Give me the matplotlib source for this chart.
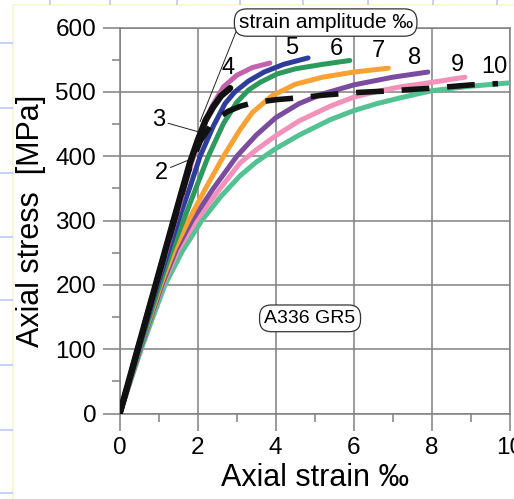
import matplotlib
matplotlib.use("Agg")
import matplotlib.pyplot as plt
from matplotlib.lines import Line2D

plt.rcParams['font.family'] = ['Liberation Sans', 'DejaVu Sans']

# stress-strain curves, one per strain amplitude (per mille)
strain_2 = [0, 0.46, 0.92, 1.4, 1.75, 2.06, 2.31, 2.55, 2.78, 3.1, 3.4, 4.0, 4.6, 5.2, 6.0, 7.0, 8.0, 9.0, 9.7]
stress_2 = [0, 100, 200, 300, 375, 423, 446, 461, 470, 478, 483, 488, 491, 495, 499, 502, 506, 511, 513]

strain_3 = [0, 0.46, 0.92, 1.38, 1.8, 2.0, 2.2, 2.4, 2.6, 2.83]
stress_3 = [0, 100, 200, 300, 390, 425, 456, 477, 494, 506]

strain_4 = [0, 0.47, 0.94, 1.42, 1.84, 2.1, 2.35, 2.66, 3.0, 3.4, 3.85]
stress_4 = [0, 100, 200, 300, 390, 438, 476, 508, 526, 538, 545]

strain_5 = [0, 0.48, 0.97, 1.5, 1.8, 2.06, 2.4, 2.7, 2.95, 3.3, 3.7, 4.2, 4.83]
stress_5 = [0, 100, 200, 300, 352, 400, 447, 482, 500, 517, 531, 543, 553]

strain_6 = [0, 0.5, 1.02, 1.3, 1.63, 1.95, 2.27, 2.66, 3.0, 3.3, 3.6, 4.03, 4.5, 5.2, 5.9]
stress_6 = [0, 100, 200, 250, 300, 350, 400, 451, 484, 503, 515, 528, 536, 543, 549]

strain_7 = [0, 0.5, 0.78, 1.05, 1.4, 1.76, 2.2, 2.66, 3.08, 3.4, 3.9, 4.5, 5.2, 6.0, 6.89]
stress_7 = [0, 100, 150, 200, 255, 300, 350, 400, 441, 468, 494, 512, 523, 531, 537]

strain_8 = [0, 0.52, 0.8, 1.08, 1.45, 1.85, 2.4, 3.0, 3.5, 4.0, 4.6, 5.2, 6.0, 7.0, 7.9]
stress_8 = [0, 100, 150, 200, 255, 300, 350, 400, 433, 460, 482, 497, 511, 523, 531]

strain_9 = [0, 0.52, 0.8, 1.1, 1.5, 1.96, 2.6, 3.09, 3.5, 4.0, 4.6, 5.4, 6.0, 6.6, 7.2, 8.0, 8.85]
stress_9 = [0, 100, 150, 200, 255, 300, 352, 390, 410, 432, 455, 478, 492, 501, 508, 515, 523]

strain_10 = [0, 0.55, 0.85, 1.16, 1.6, 2.1, 2.6, 3.09, 3.5, 4.0, 4.6, 5.4, 6.0, 6.6, 7.2, 8.0, 9.0, 9.95]
stress_10 = [0, 100, 150, 200, 252, 300, 338, 370, 391, 412, 433, 457, 471, 482, 491, 502, 509, 514]

curve_colors = {
    10: '#52c293', 9: '#f291ba', 8: '#7a4b9f', 7: '#f7a233',
    6: '#2b9a5c', 5: '#2e3d9c', 4: '#c462ad', 3: '#111111',
}
curves = {
    10: (strain_10, stress_10), 9: (strain_9, stress_9), 8: (strain_8, stress_8),
    7: (strain_7, stress_7), 6: (strain_6, stress_6), 5: (strain_5, stress_5),
    4: (strain_4, stress_4), 3: (strain_3, stress_3),
}

# label positions for the amplitude numbers
number_labels = ['4', '5', '6', '7', '8', '9', '10']
number_x = [2.78, 4.4, 5.56, 6.62, 7.57, 8.66, 9.62]
number_y = [538, 569, 567, 564, 553, 542, 539]

fig = plt.figure(figsize=(5.14, 4.99), dpi=100)
ax = fig.add_axes([0.233, 0.1713, 0.7586, 0.7732])

grid_col = '#808080'
ax.grid(True, color=grid_col, lw=1.1)
ax.set_axisbelow(True)
for s in ax.spines.values():
    s.set_color(grid_col)
    s.set_linewidth(1.1)

for amp in [10, 9, 8, 7, 6, 5, 4]:
    x, y = curves[amp]
    ax.plot(x, y, color=curve_colors[amp], lw=3.6, solid_capstyle='round',
            solid_joinstyle='round', zorder=3)
ax.plot(strain_3, stress_3, color='#111111', lw=4.6, solid_capstyle='round',
        solid_joinstyle='round', zorder=4)
ax.plot(strain_2, stress_2, color='#111111', lw=4.0, dashes=(5, 3.2), zorder=5)

ax.set_xlim(0, 10)
ax.set_ylim(0, 600)
ax.set_xticks([0, 2, 4, 6, 8, 10])
ax.set_xticks([1, 3, 5, 7, 9], minor=True)
ax.set_yticks([0, 100, 200, 300, 400, 500, 600])
ax.set_yticks([50, 150, 250, 350, 450, 550], minor=True)
ax.tick_params(which='major', length=12, width=1.1, color=grid_col, labelsize=17.5, pad=5)
ax.tick_params(which='minor', length=6, width=1.1, color=grid_col)

ax.set_xlabel('Axial strain ‰', fontsize=22)
ax.set_ylabel('Axial stress  [MPa]', fontsize=22)
ax.xaxis.set_label_coords(0.5, -0.128)
ax.yaxis.set_label_coords(-0.19, 0.5)

for t, x, y in zip(number_labels, number_x, number_y):
    ax.text(x, y, t, fontsize=17, ha='center', va='center')

ax.annotate('2', xy=(1.76, 394), xytext=(1.06, 374), fontsize=17, ha='center', va='center',
            arrowprops=dict(arrowstyle='-', lw=0.7, color='#222222', relpos=(1, 0.7),
                            shrinkA=0, shrinkB=0))
ax.annotate('3', xy=(2.02, 438), xytext=(1.0, 456), fontsize=17, ha='center', va='center',
            arrowprops=dict(arrowstyle='-', lw=0.7, color='#222222', relpos=(1, 0.4),
                            shrinkA=0, shrinkB=0))
ax.annotate('strain amplitude ‰', xy=(2.06, 454), xytext=(5.28, 608), fontsize=15,
            ha='center', va='center', annotation_clip=False, zorder=6,
            bbox=dict(boxstyle='round,pad=0.2,rounding_size=0.6', fc='white', ec='#333333', lw=0.9),
            arrowprops=dict(arrowstyle='-', lw=0.7, color='#222222', relpos=(0.0, 0.35),
                            shrinkA=0, shrinkB=0))
ax.text(4.88, 148, 'A336 GR5', fontsize=14, ha='center', va='center', zorder=6,
        bbox=dict(boxstyle='round,pad=0.25,rounding_size=0.6', fc='white', ec='#333333', lw=0.9))

# faint slide-template lines around the picture
W, H = 514.0, 499.0
fig.add_artist(Line2D([13 / W, 13 / W], [0, 1 - 5 / H], color='#f7f7d2', lw=1.2))
fig.add_artist(Line2D([13 / W, 1], [1 - 5 / H, 1 - 5 / H], color='#f7f7d2', lw=1.2))
for px in [50, 110, 177, 240, 303, 368, 433, 497]:
    fig.add_artist(Line2D([px / W, px / W], [1 - 4 / H, 1], color='#c9d2f2', lw=1.5))
for py in [43, 108, 173, 237, 300, 365, 430, 493]:
    fig.add_artist(Line2D([0, 12 / W], [1 - py / H, 1 - py / H], color='#c9d2f2', lw=1.5))

fig.savefig('out.png', dpi=100)
